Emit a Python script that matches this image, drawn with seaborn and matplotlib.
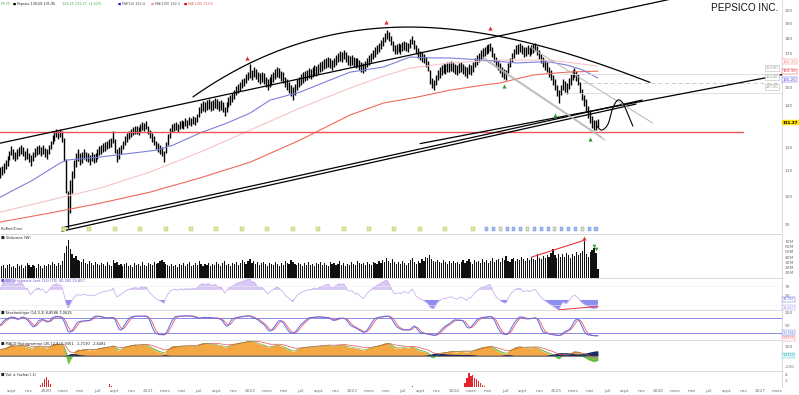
import numpy as np
import pandas as pd
import matplotlib
matplotlib.use("Agg")
import matplotlib.pyplot as plt
import matplotlib.dates as mdates
import seaborn as sns

sns.set_theme(style="white")
plt.rcParams['font.family'] = ['DejaVu Sans']

# ---------------- data (weekly bars) ----------------
end_date = "2025-05-30"
last_close = 131.37

lows = [106.5, 105.5, 107,
 108, 109, 110.5, 112, 114.5, 116.5, 115, 114, 115, 116,
 117, 116, 114.5, 115, 113.5, 112, 114, 115.5, 116.5, 117,
 116, 117, 115.5, 115, 117, 119, 121.5, 123, 124.5, 123.5,
 124.5, 122.5, 114, 101, 88.8, 94, 101, 107, 111.5, 114,
 112.5, 113, 115, 114, 113.5, 112.5, 114, 113, 113.5,
 115, 116.5, 117, 118, 118.5, 119, 119.5, 120, 122, 117.5,
 113.7, 115, 117, 119, 121, 122.5, 123.5, 124.5, 125.5, 126,
 126, 125.5, 127, 128, 127.5, 128.5, 126, 124, 122.5, 121,
 119, 118, 117, 116, 113.7, 117.5, 121, 124, 127, 127.5,
 128, 127, 128.5, 129, 128.5, 130, 129, 130.5, 130, 131,
 130.5, 132, 134.5, 136.5, 137.5, 137, 138, 138.5, 137.5, 138,
 139, 138.5, 137.5, 138, 137, 135, 137, 139.5, 140.5, 142,
 143.5, 145.5, 147, 148, 149.5, 150.5, 152.5, 154, 155, 154,
 156, 154.5, 153, 152, 153, 152, 150, 148.5, 150,
 151.5, 153, 154.5, 156, 155, 153.5, 152.5, 150, 148.5, 147,
 145, 143, 146, 148.5, 150, 151.5, 152.5, 153.5, 154, 155,
 154.5, 156, 157, 156.5, 157.5, 158.5, 159.5, 160.5, 161, 162,
 161, 160, 161.5, 163, 164.5, 165.5, 165, 166.5, 165, 163,
 162.5, 163, 162, 161, 161.5, 160, 159, 158, 159.5, 161.5,
 163, 164.5, 166.5, 168, 169.5, 171, 173, 175, 177.5, 179.5,
 178, 175.5, 172, 169.5, 170, 171, 170, 171.5, 172.5, 171.5,
 171, 173.5, 176, 173, 169.5, 167.5, 166, 165, 164, 162,
 159.5, 152, 149.5, 148.6, 151, 154, 155.5, 157, 158, 157.5,
 158.5, 159, 159.5, 158.5, 157.5, 157, 158, 158.5, 157.5, 156.5,
 155.5, 157.5, 157, 159, 161.5, 163, 164.5, 166.5, 167.5,
 168.5, 169.5, 170.5, 171.5, 168, 164.5, 162, 160, 158, 156,
 154.5, 154.3, 158, 161.5, 164.5, 167, 169.5, 170, 171, 169.5,
 168, 168.5, 169.5, 168.5, 169.5, 170.5, 171.5, 169, 166.5, 164,
 162, 160, 158.5, 156, 154, 151, 148.5, 145, 141.7, 145.5,
 148.5, 147.5, 146.5, 149, 151.5, 154, 156, 153.5, 151.5, 147,
 143, 140, 137.5, 134, 131.5, 129, 127.7, 128, 129.5]

highs = [111, 110, 111.5,
 112, 113, 114.5, 116, 118.5, 120.5, 119, 118, 119, 120,
 121, 120, 118.5, 119.5, 117.5, 116.5, 118, 119.5, 120.5, 121,
 120, 121, 119.5, 119, 121, 123, 125.5, 127, 128.5, 127.5,
 128.5, 127.5, 124, 115, 102, 106, 110, 114.5, 117.5, 119,
 117.5, 118, 119, 118, 117.5, 116.5, 118, 117, 117.5,
 119, 120.5, 121, 122, 122.5, 123, 123.5, 124, 127.5, 123.5,
 119, 120, 121, 123, 125, 126.5, 127.5, 128.5, 129.5, 130,
 130, 129.5, 131, 132, 131.5, 132.5, 130, 128, 126.5, 125,
 123, 122, 121, 120, 118.5, 122.5, 126, 129, 131, 131.5,
 132, 131, 132.5, 133, 132.5, 134, 133, 134.5, 134, 135,
 134.5, 136, 139.5, 141.5, 142.5, 142, 143, 143.5, 142.5, 143,
 144, 143.5, 142.5, 143, 142, 139.5, 142, 144.5, 145.5, 147,
 148.5, 150.5, 152, 153, 154.5, 155.5, 157.5, 159, 163.5, 160,
 162, 160.5, 159, 158, 159, 158, 156, 154.5, 156,
 157.5, 159, 160.5, 162, 161, 159.5, 158.5, 156, 154.5, 153,
 151, 150, 152, 154.5, 156, 157.5, 158.5, 159.5, 160, 161,
 160.5, 162, 163, 162.5, 163.5, 164.5, 165.5, 166.5, 167, 168,
 167, 166, 167.5, 169, 170.5, 171.5, 171, 172.5, 171, 169,
 168.5, 169, 168, 167, 167.5, 166, 165, 164, 165.5, 167.5,
 169, 170.5, 172.5, 174, 175.5, 177, 179, 181, 183.5, 185.8,
 184, 181.5, 178, 175.5, 176, 177, 176, 177.5, 178.5, 177.5,
 177, 179.5, 181.5, 179, 175.5, 173.5, 172, 171, 170, 168,
 165.5, 160, 155.5, 154, 157, 160, 161.5, 163, 164, 163.5,
 164.5, 165, 165.5, 164.5, 163.5, 163, 164, 164.5, 163.5, 162.5,
 161.5, 163.5, 163, 165, 167.5, 169, 170.5, 172.5, 173.5,
 174.5, 175.5, 176.5, 177, 174, 170.5, 168, 166, 164, 162,
 160.5, 160, 164, 167.5, 170.5, 173, 175.5, 176, 177, 175.5,
 174, 174.5, 175.5, 174.5, 175.5, 176.5, 177, 175, 172.5, 170,
 168, 166, 164.5, 162, 160, 157, 154.5, 151, 148.5, 151.5,
 154.5, 153.5, 152.5, 155, 157.5, 160, 161.3, 159.5, 157.5, 153,
 149, 146, 143.5, 140, 137.5, 135, 133, 133, 133.5]

volume_m = [24, 21, 26,
 22, 25, 20, 24, 27, 21, 23, 19, 26, 22,
 24, 20, 23, 28, 25, 21, 24, 22, 20, 26,
 23, 19, 25, 22, 27, 24, 30, 26, 22, 28,
 25, 33, 48, 62, 72, 56, 46, 38, 42, 35,
 33, 30, 36, 28, 27, 33, 29, 25, 30,
 27, 24, 29, 26, 22, 31, 25, 23, 34, 28,
 30, 24, 27, 22, 26, 29, 23, 25, 21, 28,
 24, 26, 22, 30, 25, 23, 28, 26, 24, 31,
 27, 29, 33, 35, 30, 27, 24, 22, 26, 23,
 25, 21, 27, 24, 29, 22, 26, 30, 23, 25,
 28, 24, 33, 26, 22, 27, 25, 29, 23, 26,
 24, 30, 26, 22, 28, 33, 25, 27, 23, 29,
 26, 31, 24, 28, 35, 30, 27, 33, 36, 29,
 32, 26, 30, 24, 28, 31, 27, 23, 29,
 26, 24, 30, 27, 22, 28, 25, 33, 29, 26,
 35, 31, 27, 24, 29, 26, 23, 28, 25, 30,
 24, 27, 22, 29, 26, 31, 24, 28, 25, 23,
 30, 26, 28, 24, 27, 32, 25, 29, 23, 27,
 25, 30, 27, 24, 33, 28, 26, 29, 25, 31,
 27, 24, 30, 28, 26, 33, 29, 35, 31, 38,
 33, 29, 36, 31, 27, 30, 26, 32, 28, 25,
 29, 35, 38, 31, 27, 33, 29, 36, 32, 40,
 38, 44, 36, 33, 30, 35, 31, 28, 34, 30,
 27, 32, 29, 33, 28, 31, 26, 30, 35, 28,
 32, 36, 31, 27, 34, 30, 33, 29, 37,
 31, 35, 28, 33, 39, 30, 34, 36, 31, 38,
 35, 42, 33, 30, 36, 39, 32, 37, 34, 40,
 36, 33, 38, 35, 41, 37, 34, 45, 39, 36,
 42, 38, 44, 40, 47, 55, 43, 39, 46, 41,
 45, 40, 48, 43, 38, 46, 42, 50, 44, 47,
 52, 70, 45, 41, 49, 53, 58, 48, 18]

# moving averages read at a few dates
ma50_dates = ["2019-07-20", "2019-11-15", "2020-02-20", "2020-03-16", "2020-07-12", "2020-11-07",
              "2021-02-01", "2021-03-30", "2021-07-05", "2021-10-10", "2022-01-01", "2022-03-13",
              "2022-06-28", "2022-10-14", "2022-12-25", "2023-04-22", "2023-07-27", "2023-10-17",
              "2023-12-17", "2024-04-13", "2024-08-13", "2024-10-24", "2024-12-10", "2025-02-09",
              "2025-04-07", "2025-05-30"]
ma50_vals = [99.6, 106.2, 113.1, 114.4, 115.7, 117.4, 118.7, 120.9, 126.5, 131.3, 136.3, 143.0,
             147.3, 154.1, 158.7, 161.7, 167.9, 167.3, 167.3, 166.0, 164.2, 164.8, 164.8, 162.9,
             159.9, 155.2]
ma100_dates = ["2019-07-20", "2020-01-15", "2020-07-12", "2021-01-07", "2021-07-05", "2022-01-01",
               "2022-06-28", "2022-12-25", "2023-04-22", "2023-07-27", "2023-12-17", "2024-06-13",
               "2024-12-10", "2025-05-30"]
ma100_vals = [94.2, 98.5, 103.0, 109.4, 117.8, 127.9, 138.8, 149.6, 156.4, 161.1, 164.2, 166.0,
              166.0, 162.3]
ma200_dates = ["2019-07-20", "2020-01-15", "2020-07-12", "2021-01-07", "2021-07-05", "2022-01-01",
               "2022-06-28", "2022-12-25", "2023-04-22", "2023-08-21", "2023-12-17", "2024-04-13",
               "2024-06-13", "2024-10-09", "2025-02-09", "2025-05-30"]
ma200_vals = [90.8, 93.9, 97.4, 101.5, 107.0, 113.5, 123.2, 135.3, 141.4, 144.6, 148.4, 151.2,
              152.4, 157.0, 158.7, 159.3]

support_price = 126.9
support_end = "2026-11-01"
level_prices = [157.8, 152.6, 147.0]
level_start = ["2025-01-25", "2025-04-07", "2025-01-25"]

# trend lines (date, price) anchors
upper_line = [("2019-07-20", 121.8), ("2025-08-17", 200.0)]
lower_line_a = [("2020-02-27", 88.9), ("2025-11-04", 143.0)]
lower_line_b = [("2020-02-27", 87.8), ("2025-10-13", 140.9)]
long_line_c = [("2023-09-01", 121.6), ("2027-03-20", 157.2)]
arc_dates = ["2021-06-10", "2022-01-01", "2022-06-28", "2022-12-25", "2023-08-21", "2024-05-09",
             "2024-12-10", "2025-12-02"]
arc_prices = [144.6, 164.8, 176.2, 184.3, 187.7, 183.6, 172.3, 152.9]
chan_upper = [("2024-09-29", 174.2), ("2025-12-12", 131.3)]
chan_low1 = [("2024-04-13", 167.9), ("2025-06-13", 124.6)]
chan_low2 = [("2024-04-27", 165.4), ("2025-06-24", 123.2)]
proj_dates = ["2025-05-26", "2025-06-13", "2025-07-05", "2025-07-22", "2025-08-09", "2025-08-27",
              "2025-09-14", "2025-10-02"]
proj_prices = [129.8, 127.9, 130.8, 138.8, 143.0, 141.4, 135.8, 129.8]

sell_dates = ["2021-12-21", "2023-05-02", "2024-05-09"]
sell_prices = [167.2, 191.3, 187.0]
buy_dates = ["2024-06-27", "2024-12-28", "2025-05-01"]
buy_prices = [150.7, 135.3, 123.7]

div_dates = ["2020-03-05", "2020-06-04", "2020-09-03", "2020-12-03", "2021-03-04", "2021-06-03",
             "2021-09-02", "2021-12-02", "2022-03-03", "2022-06-02", "2022-09-01", "2022-12-01",
             "2023-03-02", "2023-06-01", "2023-08-31", "2023-11-30", "2024-03-07"]
news_dates = ["2024-04-26", "2024-05-21", "2024-06-14", "2024-07-09", "2024-08-02", "2024-08-27",
              "2024-09-20", "2024-10-15", "2024-11-08", "2024-12-03", "2024-12-27", "2025-01-21",
              "2025-02-14", "2025-03-11", "2025-04-04", "2025-04-29", "2025-05-23"]

vol_trend = [("2024-10-05", 40), ("2025-04-11", 72)]

red_hist_dates = ["2019-12-13", "2019-12-20", "2019-12-27", "2020-01-03", "2020-01-10", "2020-01-17",
                  "2020-08-14", "2020-08-21", "2023-08-04",
                  "2024-02-09", "2024-02-16", "2024-02-23", "2024-03-01", "2024-03-08", "2024-03-15",
                  "2024-03-22", "2024-03-29", "2024-04-05", "2024-04-12", "2024-04-19"]
red_hist_vals = [0.6, 1.4, 2.6, 3.4, 2.4, 1.0, 0.9, 0.4, 0.3,
                 1.2, 2.8, 4.6, 3.6, 4.0, 3.0, 2.6, 1.9, 1.4, 0.8, 0.4]

month_labels = {1: None, 3: "mars", 5: "mai", 7: "juil", 9: "sept", 11: "nov"}
price_ticks = [90, 100, 110, 120, 140, 150, 170, 180, 190, 200]
vol_ticks = [10, 20, 30, 40, 50, 60, 70]

# ---------------- figure ----------------
W, H = 799, 395
fig = plt.figure(figsize=(W / 100, H / 100), dpi=100)
RIGHT = 782


def rect(y0, y1):
    return [0, 1 - y1 / H, RIGHT / W, (y1 - y0) / H]


ax_p = fig.add_axes(rect(0, 232))
ax_v = fig.add_axes(rect(234, 278))
ax_r = fig.add_axes(rect(278, 310))
ax_s = fig.add_axes(rect(310, 340))
ax_m = fig.add_axes(rect(340, 371))
ax_x = fig.add_axes(rect(371, 387))
axes = [ax_p, ax_v, ax_r, ax_s, ax_m, ax_x]

dates = pd.date_range(end=end_date, periods=len(lows), freq="W-FRI")
low = pd.Series(lows, index=dates, dtype=float)
high = pd.Series(highs, index=dates, dtype=float)
mid = (low + high) / 2
xl = (pd.Timestamp("2019-07-20"), pd.Timestamp("2027-03-20"))
xl_num = mdates.date2num(xl)

GRID = "#d4d4d4"
TICKC = "#707070"
for ax in axes:
    ax.set_facecolor("white")
    ax.set_xlim(xl)
    for s in ["left", "bottom"]:
        ax.spines[s].set_visible(False)
    ax.spines["top"].set_color(GRID)
    ax.spines["top"].set_linewidth(0.6)
    ax.spines["right"].set_color(GRID)
    ax.spines["right"].set_linewidth(0.6)
    ax.yaxis.tick_right()
    ax.tick_params(axis="y", labelsize=3.2, colors=TICKC, length=0, pad=2)
    ax.tick_params(axis="x", length=0)
    ax.grid(False)
    if ax is not ax_x:
        ax.set_xticks([])
ax_p.spines["top"].set_visible(False)


def dnum(d):
    return mdates.date2num(pd.Timestamp(d))


def seg(ax, pts, extend=False, **kw):
    (d0, p0), (d1, p1) = pts
    x0, x1 = dnum(d0), dnum(d1)
    if extend:
        xs = np.array(xl_num)
        slope = (np.log(p1) - np.log(p0)) / (x1 - x0)
        ys = np.exp(np.log(p0) + slope * (xs - x0))
    else:
        xs, ys = np.array([x0, x1]), np.array([p0, p1])
    ax.plot(xs, ys, **kw)


def catmull(xs, ys, n=25):
    P = np.column_stack([xs, ys])
    P = np.vstack([P[0], P, P[-1]])
    out = []
    t = np.linspace(0, 1, n)[:, None]
    for i in range(1, len(P) - 2):
        p0, p1, p2, p3 = P[i - 1], P[i], P[i + 1], P[i + 2]
        out.append(0.5 * ((2 * p1) + (-p0 + p2) * t + (2 * p0 - 5 * p1 + 4 * p2 - p3) * t ** 2
                          + (-p0 + 3 * p1 - 3 * p2 + p3) * t ** 3))
    return np.vstack(out)


def side_label(ax, v, text, fc, ec, tc, fs=2.8, dy=0.0, bold=False):
    ax.annotate(text, xy=(1.0, v), xycoords=("axes fraction", "data"),
                xytext=(0.6, dy), textcoords="offset points", ha="left", va="center",
                fontsize=fs, color=tc, annotation_clip=False,
                fontweight="bold" if bold else "normal",
                bbox=dict(boxstyle="square,pad=0.15", fc=fc, ec=ec, lw=0.3))


# ---------------- main price panel ----------------
ax_p.set_yscale("log")
ax_p.set_ylim(87.5, 207.6)
ax_p.vlines(dates, low, high, color="black", linewidth=1.0)
sns.lineplot(x=pd.to_datetime(ma100_dates), y=ma100_vals, ax=ax_p, color="#f5c4c4", lw=0.8)
sns.lineplot(x=pd.to_datetime(ma200_dates), y=ma200_vals, ax=ax_p, color="#ee6a5a", lw=0.8)
sns.lineplot(x=pd.to_datetime(ma50_dates), y=ma50_vals, ax=ax_p, color="#7d7fdc", lw=0.8)
ax_p.set_yticks(price_ticks)
ax_p.set_yticklabels([str(t) for t in price_ticks])
ax_p.yaxis.set_minor_locator(matplotlib.ticker.NullLocator())
ax_p.set_xlim(xl)

# support / levels
ax_p.plot([xl_num[0], dnum(support_end)], [support_price] * 2, color="#f2545b", lw=1.0)
ax_p.plot([dnum(level_start[0]), xl_num[1]], [level_prices[0]] * 2, color="#dcdcdc", lw=0.6)
ax_p.plot([dnum(level_start[1]), xl_num[1]], [level_prices[1]] * 2, color="#c8c8c8", lw=0.7,
          ls=(0, (4, 3)))
ax_p.plot([dnum(level_start[2]), xl_num[1]], [level_prices[2]] * 2, color="#dcdcdc", lw=0.6)
for pr in level_prices:
    ax_p.annotate(f"{pr:.2f}".replace(".", ","), xy=(0.995, pr), xycoords=("axes fraction", "data"),
                  xytext=(0, 2.5), textcoords="offset points", ha="right", va="bottom",
                  fontsize=2.6, color="#9a9a9a",
                  bbox=dict(boxstyle="square,pad=0.25", fc="white", ec="#b8b8b8", lw=0.4))

# trend lines
seg(ax_p, upper_line, extend=True, color="black", lw=0.9)
seg(ax_p, lower_line_a, color="black", lw=0.9)
seg(ax_p, lower_line_b, color="black", lw=0.9)
seg(ax_p, long_line_c, color="black", lw=0.9)
seg(ax_p, chan_upper, color="#b5b5b5", lw=0.7)
seg(ax_p, chan_low1, color="#b5b5b5", lw=0.7)
seg(ax_p, chan_low2, color="#b5b5b5", lw=0.7)

ax_days = np.array([dnum(d) for d in arc_dates])
coef = np.polyfit(ax_days - ax_days[0], np.log(arc_prices), 3)
xx = np.linspace(ax_days[0], ax_days[-1], 300)
ax_p.plot(xx, np.exp(np.polyval(coef, xx - ax_days[0])), color="black", lw=0.9)

cur = catmull([dnum(d) for d in proj_dates], np.log(proj_prices))
ax_p.plot(cur[:, 0], np.exp(cur[:, 1]), color="black", lw=0.8)

# signals
ax_p.scatter(pd.to_datetime(sell_dates), sell_prices, marker="^", s=9, color="#e8252b", lw=0, zorder=5)
ax_p.scatter(pd.to_datetime(buy_dates), buy_prices, marker="^", s=9, color="#2ca02c", lw=0, zorder=5)

# event icons
ax_p.scatter(pd.to_datetime(div_dates), [88.5] * len(div_dates), marker="s", s=5,
             color="#e3e69a", edgecolors="#b5b85a", lw=0.3, zorder=4)
news_cols = ["#9dbcf2" if i % 4 != 2 else "#e3e69a" for i in range(len(news_dates))]
ax_p.scatter(pd.to_datetime(news_dates), [88.5] * len(news_dates), marker="s", s=5,
             color=news_cols, edgecolors="#6f8fd0", lw=0.3, zorder=4)

# right-side labels
side_label(ax_p, ma100_vals[-1], f"{ma100_vals[-1]:.2f}".replace(".", ","), "white", "#f08080", "#f08080", dy=3.2)
side_label(ax_p, ma200_vals[-1], f"{ma200_vals[-1]:.2f}".replace(".", ","), "white", "#e03030", "#e03030", dy=0.0)
side_label(ax_p, ma50_vals[-1], f"{ma50_vals[-1]:.2f}".replace(".", ","), "white", "#4040d0", "#4040d0", dy=-1.0)
side_label(ax_p, last_close, f"{last_close:.2f}", "#ffe100", "#ffe100", "black", fs=2.9, bold=True)

fig.text(745 / W, 1 - 8 / H, "PEPSICO INC.", ha="center", va="center", fontsize=7.2,
         family=["Liberation Sans", "DejaVu Sans"], color="#111111")

# header legend line
hdr = [(1, "FP FP", "#3cb043"), (13, "■", "black"),
       (17, "Pepsico 130,58 131,95", "#222222"),
       (62, "129,25 131,37 +1,52%", "#3cb043"), (118, "■", "#2020c0"),
       (122, "MA(50) 155,4", "#555555"), (151, "■", "#f08cd8"),
       (155, "MA(100) 162,3", "#555555"), (184, "■", "#e00000"),
       (188, "MA(200) 159,5", "#e06060")]
for x, t, c in hdr:
    fig.text(x / W, 1 - 4 / H, t, ha="left", va="center", fontsize=2.4, color=c)

fig.text(1 / W, 1 - 229 / H, "ProRealTime", ha="left", va="center", fontsize=2.6, color="#333333")

# ---------------- volume panel ----------------
vol = pd.Series(volume_m, index=dates, dtype=float)
ax_v.bar(dates, vol, width=4.2, color="#111111", lw=0)
ax_v.set_ylim(0, 84)
ax_v.set_yticks(vol_ticks)
ax_v.set_yticklabels([f"{t}M" for t in vol_ticks])
seg(ax_v, vol_trend, color="#e8353a", lw=0.8)
ax_v.scatter([pd.Timestamp("2025-04-11")], [76], marker="^", s=8, color="#e8252b", lw=0, zorder=5)
ax_v.scatter([pd.Timestamp("2025-05-16"), pd.Timestamp("2025-05-23")], [62, 55], marker="v", s=7,
             color="#2ca02c", lw=0, zorder=5)
fig.text(1 / W, 1 - 237.5 / H, "■ Volumes (W)", ha="left", va="center", fontsize=2.8, color="#222222")

# ---------------- RSI panel ----------------
delta = mid.diff().fillna(0)
gain = delta.clip(lower=0).ewm(alpha=1 / 14, adjust=False).mean()
loss = (-delta.clip(upper=0)).ewm(alpha=1 / 14, adjust=False).mean()
rsi = 100 - 100 / (1 + gain / loss.replace(0, np.nan))
rsi = rsi.fillna(50)
ax_r.set_ylim(18, 88)
sns.lineplot(x=dates, y=rsi.values, ax=ax_r, color="#c9b2f2", lw=0.6)
ax_r.fill_between(dates, 62, rsi, where=rsi > 62, color="#d8c8f6", lw=0, interpolate=True)
ax_r.fill_between(dates, 40, rsi, where=rsi < 40, color="#8d8ff0", lw=0, interpolate=True)
ax_r.axhline(70, color="#eeeeee", lw=0.4)
ax_r.axhline(30, color="#eeeeee", lw=0.4)
ax_r.set_yticks([50, 70])
ax_r.set_yticklabels(["50", "70"])
r_low = rsi["2025-01-01":"2025-01-31"].min()
ax_r.plot([dnum("2025-01-10"), dnum("2025-05-30")], [r_low, rsi.iloc[-1] + 2], color="#e8353a", lw=0.7)
side_label(ax_r, 40, f"{rsi.iloc[-1]:.3f}".replace(".", ","), "white", "#6060e0", "#6060e0", fs=2.4, dy=0.5)
side_label(ax_r, 28, "29,857", "white", "#9090e0", "#9090e0", fs=2.4, dy=-1.5)
ax_r.set_xlim(xl)
fig.text(1 / W, 1 - 281 / H, "■ RSI Stochastic Lent (14) (70) 40,382 29,857", ha="left",
         va="center", fontsize=2.6, color="#6a5acd")

# ---------------- stochastic panel ----------------
ll = low.rolling(14, min_periods=1).min()
hh = high.rolling(14, min_periods=1).max()
k = 100 * (mid - ll) / (hh - ll)
ks = k.rolling(3, min_periods=1).mean()
dline = ks.rolling(3, min_periods=1).mean()
ax_s.set_ylim(-8, 112)
ax_s.axhline(80, color="#8a8ae6", lw=0.7)
ax_s.axhline(20, color="#8a8ae6", lw=0.7)
sns.lineplot(x=dates, y=dline.values, ax=ax_s, color="#ec6a78", lw=0.7)
sns.lineplot(x=dates, y=ks.values, ax=ax_s, color="#5a6ae8", lw=0.7)
ax_s.set_yticks([50, 100])
ax_s.set_yticklabels(["50", "100"])
side_label(ax_s, 12, f"{ks.iloc[-1]:.4f}".replace(".", ","), "white", "#5a6ae8", "#5a6ae8", fs=2.4, dy=1.5)
side_label(ax_s, 12, f"{dline.iloc[-1]:.4f}".replace(".", ","), "white", "#ec6a78", "#ec6a78", fs=2.4, dy=-2.5)
ax_s.set_xlim(xl)
fig.text(1 / W, 1 - 313 / H, "■ Stochastique (14,3,3) 8,8586 7,0625", ha="left", va="center",
         fontsize=2.6, color="#222222")

# ---------------- oscillator panel ----------------
e40 = mid.ewm(span=40, adjust=False).mean()
osc = 160 * (mid / e40 - 1) + 12
fast = 160 * (mid.ewm(span=3, adjust=False).mean() / e40 - 1) + 12
weak = (100 * (e40 / mid.ewm(span=8, adjust=False).mean() - 1)).clip(lower=0) * 0.8 + 1.5
sig = osc.ewm(span=10, adjust=False).mean() + 1.5
ax_m.set_ylim(-30, 32)
ax_m.fill_between(dates, 0, osc.clip(lower=0), color="#f3a843", lw=0)
ax_m.fill_between(dates, osc, fast, where=fast > osc + 1, color="#74c84a", lw=0, interpolate=True)
ax_m.fill_between(dates, 0, osc.clip(upper=0), color="#74c84a", lw=0)
ax_m.fill_between(dates, 0, weak, color="#1c2b66", lw=0)
sns.lineplot(x=dates, y=sig.values, ax=ax_m, color="#e8504a", lw=0.5)
sns.lineplot(x=dates, y=fast.values, ax=ax_m, color="#4a9a30", lw=0.3)
ax_m.set_yticks([-20, 20])
ax_m.set_yticklabels(["-150", "150"])
side_label(ax_m, 2, "1,2713", "#d8f6f8", "#60c8d0", "#30a0b0", fs=2.4)
ax_m.set_xlim(xl)
fig.text(1 / W, 1 - 343.5 / H, "■ MACD Histogramme (26,12,9) 0,9351  -1,7130  -2,6481", ha="left",
         va="center", fontsize=2.6, color="#222222")

# ---------------- bottom red histogram ----------------
ax_x.bar(pd.to_datetime(red_hist_dates), red_hist_vals, width=4.5, color="#e3262c", lw=0)
ax_x.set_ylim(0, 5.2)
ax_x.set_yticks([2, 4])
ax_x.set_yticklabels(["2", "4"])
fig.text(1 / W, 1 - 374.5 / H, "■ Vol. à l'achat (-1)", ha="left", va="center", fontsize=2.6,
         color="#222222")

ticks, labels = [], []
for yr in range(2019, 2028):
    for m, name in month_labels.items():
        t = pd.Timestamp(year=yr, month=m, day=1)
        if xl[0] <= t <= xl[1]:
            ticks.append(t)
            labels.append(str(yr) if name is None else name)
ax_x.set_xticks(ticks)
ax_x.set_xticklabels(labels, fontsize=3.2, color=TICKC)
ax_x.tick_params(axis="x", pad=1.5, length=0)
ax_x.set_xlim(xl)
for ax in axes:
    ax.set_xlabel("")
    ax.set_ylabel("")

fig.savefig("out.png", dpi=100)
